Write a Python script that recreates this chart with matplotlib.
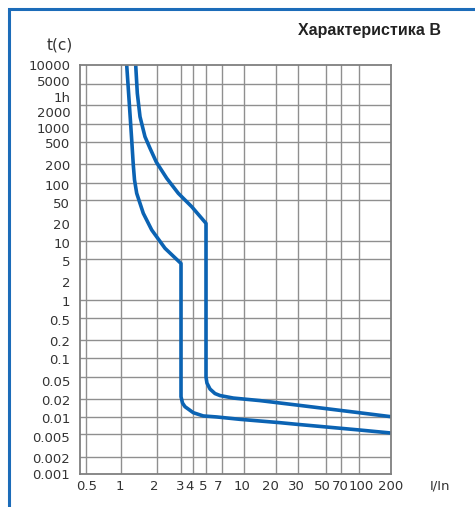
import numpy as np
import matplotlib
matplotlib.use("Agg")
import matplotlib.pyplot as plt
from matplotlib.patches import Rectangle
from matplotlib.scale import FuncScale

# printed grid of the sheet (the scale is not a true log scale)
x_grid = [0.5, 1, 2, 3, 4, 5, 7, 10, 20, 30, 50, 70, 100, 200]
y_grid = [0.001, 0.002, 0.005, 0.01, 0.02, 0.05, 0.1, 0.2, 0.5, 1, 2, 5,
          10, 20, 50, 100, 200, 500, 1000, 2000, 5000, 10000]

# tick labels
x_labels = ['0.5', '1', '2', '3', '4', '5', '7', '10', '20', '30', '50', '70', '100', '200']
y_labels = ['10000', '5000', '1h', '2000', '1000', '500', '200', '100', '50', '20', '10',
            '5', '2', '1', '0.5', '0.2', '0.1', '0.05', '0.02', '0.01', '0.005', '0.002', '0.001']

# lower boundary curve (I/In, t in s)
low_I = [1.116, 1.173, 1.229, 1.267, 1.297, 1.353, 1.536, 1.806, 2.29, 3.0,
         3.0, 3.11, 3.30, 4.02, 4.77, 6.26, 9.37, 21.5, 30, 100, 200]
low_t = [10000, 2153, 540, 193, 112, 65.7, 30.1, 15.7, 7.55, 4.18,
         0.022, 0.0171, 0.0148, 0.0117, 0.0103, 0.0099, 0.0090, 0.00787, 0.00734, 0.00588, 0.0052]

# upper boundary curve
up_I = [1.327, 1.369, 1.442, 1.587, 1.748, 1.973, 2.356, 2.866, 3.88, 5.0,
        5.0, 5.1, 5.44, 6.04, 6.71, 8.41, 14.1, 30, 100, 200]
up_t = [10000, 3333, 1305, 613, 385, 217, 119, 65.7, 38.7, 20.5,
        0.05, 0.0389, 0.0303, 0.0251, 0.0231, 0.0208, 0.0188, 0.0157, 0.0117, 0.0100]

# where the grid lines sit on the sheet (pixels) -> used to build the scales
x_grid_px = [86, 121, 157, 181, 193, 206, 222, 244, 276, 298, 326, 341, 359, 391]
y_grid_px = [474, 456.7, 434, 416.7, 399, 377, 358.3, 339.5, 318, 300, 282, 259,
             241, 224, 200, 183, 164, 142, 124, 105, 84, 65]
x_label_px = [87, 120, 154, 180, 190, 203, 218, 242, 270, 296, 322, 340, 361, 391]
y_label_px = [65, 80.5, 96.5, 111.5, 127.5, 142.5, 164.5, 185, 203, 224, 242.5, 260.5,
              282, 301, 320, 340.5, 359, 381, 400, 418, 436.7, 458, 474]


def interp_ext(v, xp, fp):
    v = np.asarray(v, dtype=float)
    s0 = (fp[1] - fp[0]) / (xp[1] - xp[0])
    s1 = (fp[-1] - fp[-2]) / (xp[-1] - xp[-2])
    out = np.interp(v, xp, fp)
    out = np.where(v < xp[0], fp[0] + (v - xp[0]) * s0, out)
    out = np.where(v > xp[-1], fp[-1] + (v - xp[-1]) * s1, out)
    return out


def safe_log(v):
    with np.errstate(all='ignore'):
        return np.log10(np.maximum(np.asarray(v, dtype=float), 1e-300))


lx = np.log10(x_grid)
px_x = np.array(x_grid_px, dtype=float)
ly = np.log10(y_grid)
px_y = -np.array(y_grid_px, dtype=float)


def x_fwd(v):
    return interp_ext(safe_log(v), lx, px_x)


def x_inv(p):
    return 10 ** interp_ext(p, px_x, lx)


def y_fwd(v):
    return interp_ext(safe_log(v), ly, px_y)


def y_inv(p):
    return 10 ** interp_ext(p, px_y, ly)


W, H = 475, 507
fig = plt.figure(figsize=(W / 100, H / 100), dpi=100)
ax = fig.add_axes([80 / W, (H - 474) / H, 311 / W, 409 / H])

ax.set_xscale(FuncScale(ax, (x_fwd, x_inv)))
ax.set_yscale(FuncScale(ax, (y_fwd, y_inv)))

blue = '#0b63b3'
ax.plot(low_I, low_t, color=blue, lw=2.6, solid_joinstyle='round', solid_capstyle='butt')
ax.plot(up_I, up_t, color=blue, lw=2.6, solid_joinstyle='round', solid_capstyle='butt')

ax.set_xlim(float(x_inv(80)), 200)
ax.set_ylim(0.001, 10000)

# grid on the minor ticks, labels on the major ones
ax.set_xticks(x_grid, minor=True)
ax.set_yticks(y_grid, minor=True)
ax.set_xticks([float(x_inv(p)) for p in x_label_px], x_labels)
ax.set_yticks([float(y_inv(-p)) for p in y_label_px], y_labels)
ax.grid(which='minor', color='#8f8f8f', lw=1.0)
ax.grid(which='major', visible=False)
ax.tick_params(which='both', length=0)
ax.tick_params(axis='y', pad=7, labelsize=9.5, labelcolor='#333333')
ax.tick_params(axis='x', pad=4, labelsize=9.5, labelcolor='#333333')
for s in ax.spines.values():
    s.set_color('#7f7f7f')
    s.set_linewidth(1.3)

fig.text(59.5 / W, 1 - 45 / H, 't(c)', ha='center', va='center', fontsize=11, color='#333333')
fig.text(440 / W, 1 - 486 / H, 'I/In', ha='center', va='center', fontsize=9.5, color='#333333')
fig.text(441 / W, 1 - 31 / H, 'Характеристика B', ha='right', va='center', fontsize=11.5,
         fontweight='bold', family=['Liberation Sans', 'DejaVu Sans'], color='#222222')

# blue frame of the sheet
fig.add_artist(Rectangle((8.5 / W, -0.1), 1.2, 0.1 + 1 - 8.5 / H, transform=fig.transFigure,
                         fill=False, ec='#1c6cb9', lw=2.2))

fig.savefig('out.png', dpi=100)
